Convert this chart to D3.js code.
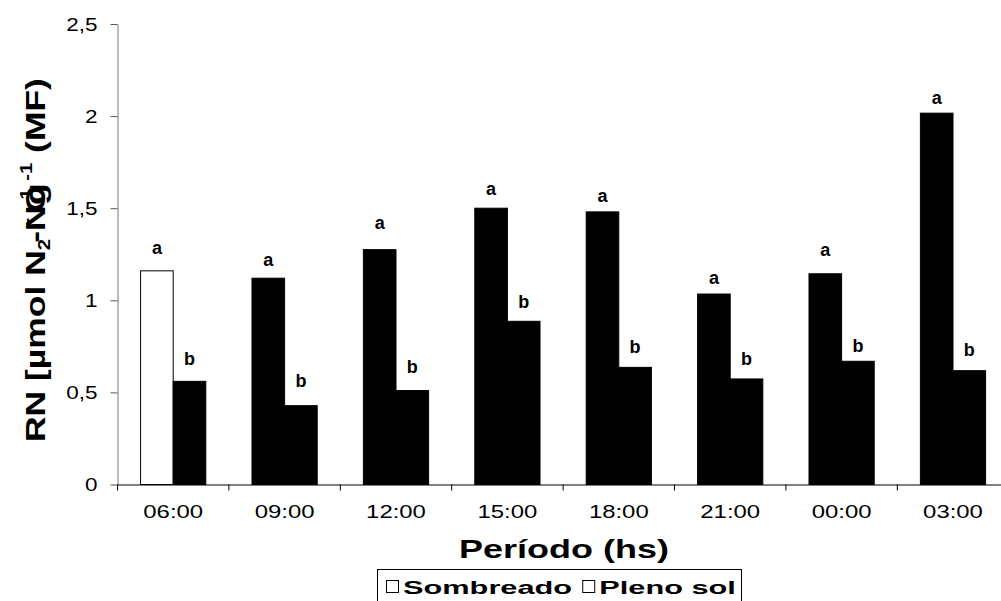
<!DOCTYPE html>
<html>
<head>
<meta charset="utf-8">
<script src="https://cdn.jsdelivr.net/npm/d3@7"></script>
<style>
  body { margin: 0; background: #fff; }
  svg { display: block; font-family: Arial, "Liberation Sans", sans-serif; }
</style>
</head>
<body>
<svg id="chart" width="1001" height="601"></svg>
<script>
// data
const categorias = ['06:00', '09:00', '12:00', '15:00', '18:00', '21:00', '00:00', '03:00']
const sombreado = [1.16, 1.12, 1.275, 1.50, 1.48, 1.034, 1.144, 2.016]
const plenoSol = [0.56, 0.428, 0.51, 0.886, 0.636, 0.573, 0.669, 0.618]
// invisible error (letter sits on top of it)
const erroSombreado = [0.093, 0.065, 0.11, 0.073, 0.055, 0.054, 0.098, 0.05]
const erroPleno = [0.09, 0.10, 0.097, 0.074, 0.08, 0.074, 0.05, 0.08]
const letrasSombreado = ['a', 'a', 'a', 'a', 'a', 'a', 'a', 'a']
const letrasPleno = ['b', 'b', 'b', 'b', 'b', 'b', 'b', 'b']
const series = ['Sombreado', 'Pleno sol']
const yTicks = [0, 0.5, 1, 1.5, 2, 2.5]

const svg = d3.select('#chart')

// Compute layout
const mLeft = 117.5, mBottom = 484.5, mTop = 24
const step = 111.4
let x = d3.scaleBand(categorias, [mLeft, mLeft + step * categorias.length]).padding(0)
let xSub = d3.scaleBand(series, [0, x.bandwidth()]).paddingInner(0).paddingOuter(0.708)
let y = d3.scaleLinear([0, 2.5], [mBottom, mTop])
let fmt = (d) => d3.format('')(d).replace('.', ',')

let rows = categorias.map((c, i) => {return {
    'cat': c,
    'vals': [
        {'s': 'Sombreado', 'v': sombreado[i], 'e': erroSombreado[i], 'l': letrasSombreado[i], 'i': i},
        {'s': 'Pleno sol', 'v': plenoSol[i], 'e': erroPleno[i], 'l': letrasPleno[i], 'i': i}
    ]
}})

// Draw bars
let groups = svg.append('g').selectAll('g').data(rows).join('g')
    .attr('transform', (d) => 'translate(' + x(d.cat) + ',0)')

groups.selectAll('rect').data((d) => d.vals).join('rect')
    .attr('x', (d) => xSub(d.s))
    .attr('y', (d) => y(d.v))
    .attr('width', xSub.bandwidth())
    .attr('height', (d) => y(0) - y(d.v))
    .attr('fill', (d) => (d.s == 'Sombreado' && d.i == 0) ? '#fff' : '#000')
    .attr('stroke', '#000')
    .attr('stroke-width', 1)

groups.selectAll('text').data((d) => d.vals).join('text')
    .attr('x', (d) => xSub(d.s) + xSub.bandwidth() / 2)
    .attr('y', (d) => y(d.v + d.e))
    .attr('text-anchor', 'middle')
    .attr('font-size', 18)
    .attr('font-weight', 'bold')
    .text((d) => d.l)

// y axis
let yAxis = d3.axisLeft(y).tickValues(yTicks).tickFormat(fmt).tickSize(7).tickSizeOuter(0)
let gy = svg.append('g').attr('transform', 'translate(' + mLeft + ',0)').call(yAxis)
gy.select('.domain').attr('stroke', '#777')
gy.selectAll('.tick line').attr('stroke', '#555')
gy.selectAll('.tick text')
    .attr('x', null).attr('dy', '0.35em')
    .attr('transform', 'translate(-20,0) scale(1.25,1)')
    .attr('font-size', 18).attr('font-family', 'Arial, "Liberation Sans", sans-serif')
    .attr('fill', '#000')

// x axis
let xAxis = d3.axisBottom(x).tickSize(0).tickSizeOuter(0)
let gx = svg.append('g').attr('transform', 'translate(0,' + mBottom + ')').call(xAxis)
gx.select('.domain').attr('stroke', '#000')
gx.selectAll('.tick text')
    .attr('y', null).attr('dy', null)
    .attr('transform', 'translate(0,33) scale(1.33,1)')
    .attr('font-size', 18).attr('font-family', 'Arial, "Liberation Sans", sans-serif')
    .attr('fill', '#000')

let bounds = categorias.map((c) => x(c)).concat([x(categorias[categorias.length - 1]) + x.step()])
gx.selectAll('line.sep').data(bounds).join('line')
    .attr('class', 'sep')
    .attr('x1', (d) => d).attr('x2', (d) => d)
    .attr('y1', 0).attr('y2', 6)
    .attr('stroke', '#000')

// axis titles
svg.append('text')
    .attr('transform', 'translate(564,558) scale(1.44,1)')
    .attr('text-anchor', 'middle')
    .attr('font-size', 25).attr('font-weight', 'bold')
    .text('Período (hs)')

let yl = svg.append('text')
    .attr('font-size', 28).attr('font-weight', 'bold')
yl.append('tspan').text('RN [µmol N')
yl.append('tspan').attr('font-size', 16).attr('dy', 5).text('2')
yl.append('tspan').attr('dx', -3).attr('dy', -5).text('-N')
yl.append('tspan').attr('font-size', 16).attr('dx', -15).attr('dy', -13).text('-')
yl.append('tspan').attr('dx', 4).attr('dy', 13).text('O')
yl.append('tspan').attr('font-size', 16).attr('dx', -17).attr('dy', -13).text('-1')
yl.append('tspan').attr('dx', -13).attr('dy', 13).text('g')
yl.append('tspan').attr('font-size', 16).attr('dx', 2).attr('dy', -13).text('-1')
yl.append('tspan').attr('dy', 13).text(' (MF)')
let ylLen = yl.node().getBBox().width
yl.attr('transform', 'translate(45,442) rotate(-90) scale(' + (364 / ylLen) + ',1)')

// legend: one common horizontal stretch so both entries fill the box
let lg = svg.append('g')
lg.append('rect').attr('x', 377.5).attr('y', 569.5).attr('width', 364).attr('height', 50)
    .attr('fill', '#fff').attr('stroke', '#000')
const sq = 12, gapIn = 5, gapOut = 10
let lt = series.map((s) => lg.append('text').attr('font-size', 19).attr('font-weight', 'bold').text(s))
let w = lt.map((t) => t.node().getBBox().width)
let k = (736 - 386 - 2 * sq - 2 * gapIn - gapOut) / (w[0] + w[1])
let px = 386
series.forEach((s, i) => {
    lg.append('rect').attr('x', px + 0.5).attr('y', 580.5).attr('width', sq).attr('height', sq)
        .attr('fill', '#fff').attr('stroke', '#000')
    px += sq + gapIn
    lt[i].attr('transform', 'translate(' + px + ',594) scale(' + k + ',1)')
    px += w[i] * k + gapOut
})
</script>
</body>
</html>
